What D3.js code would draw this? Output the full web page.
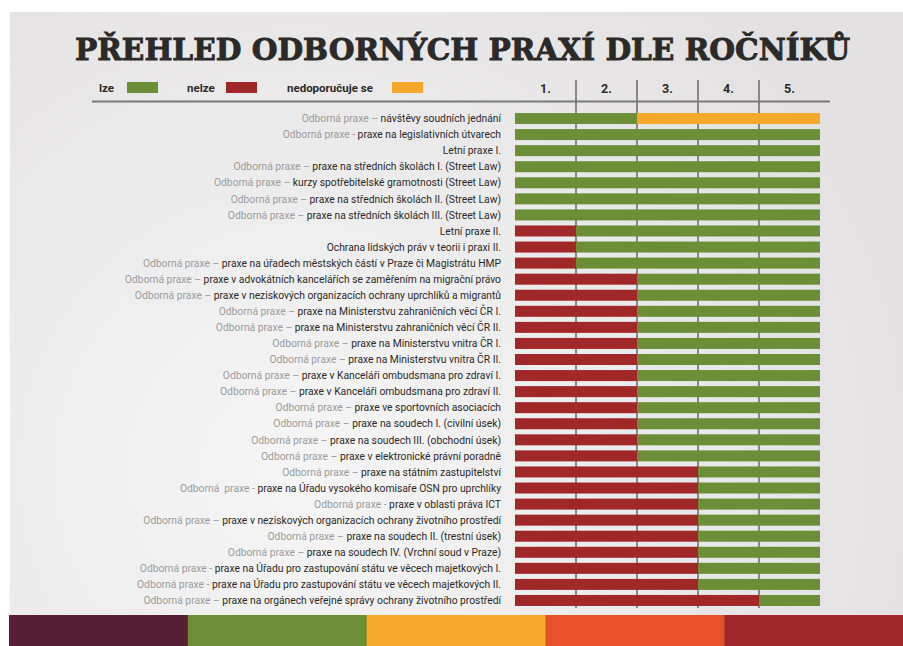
<!DOCTYPE html>
<html>
<head>
<meta charset="utf-8">
<script src="https://cdn.jsdelivr.net/npm/d3@7"></script>
<style>
  html, body { margin: 0; padding: 0; background: #fff; }
  svg { display: block; }
</style>
</head>
<body>
<div id="chart"></div>
<script>
(function () {
    /* ----------------------- Data ----------------------- */
    const years = ["1.", "2.", "3.", "4.", "5."];

    const categories = ["lze", "nelze", "nedoporučuje se"];
    const categoryCodes = ["L", "N", "O"];

    const prefixes = [
        "Odborná praxe – ", "Odborná praxe - ", "", "Odborná praxe – ", "Odborná praxe – ",
        "Odborná praxe – ", "Odborná praxe – ", "", "", "Odborná praxe – ",
        "Odborná praxe – ", "Odborná praxe – ", "Odborná praxe – ", "Odborná praxe – ", "Odborná praxe – ",
        "Odborná praxe – ", "Odborná praxe – ", "Odborná praxe – ", "Odborná praxe – ", "Odborná praxe – ",
        "Odborná praxe – ", "Odborná praxe – ", "Odborná praxe – ", "Odborná\u00a0 praxe - ", "Odborná praxe - ",
        "Odborná praxe – ", "Odborná praxe – ", "Odborná praxe – ", "Odborná praxe - ", "Odborná praxe - ",
        "Odborná praxe – "
    ];

    const labels = [
        "návštěvy soudních jednání",
        "praxe na legislativních útvarech",
        "Letní praxe I.",
        "praxe na středních školách I. (Street Law)",
        "kurzy spotřebitelské gramotnosti (Street Law)",
        "praxe na středních školách II. (Street Law)",
        "praxe na středních školách III. (Street Law)",
        "Letní praxe II.",
        "Ochrana lidských práv v teorii i praxi II.",
        "praxe na úřadech městských částí v Praze či Magistrátu HMP",
        "praxe v advokátních kancelářích se zaměřením na migrační právo",
        "praxe v neziskových organizacích ochrany uprchlíků a migrantů",
        "praxe na Ministerstvu zahraničních věcí ČR I.",
        "praxe na Ministerstvu zahraničních věcí ČR II.",
        "praxe na Ministerstvu vnitra ČR I.",
        "praxe na Ministerstvu vnitra ČR II.",
        "praxe v Kanceláři ombudsmana pro zdraví I.",
        "praxe v Kanceláři ombudsmana pro zdraví II.",
        "praxe ve sportovních asociacích",
        "praxe na soudech I. (civilní úsek)",
        "praxe na soudech III. (obchodní úsek)",
        "praxe v elektronické právní poradně",
        "praxe na státním zastupitelství",
        "praxe na Úřadu vysokého komisaře OSN pro uprchlíky",
        "praxe v oblasti práva ICT",
        "praxe v neziskových organizacích ochrany životního prostředí",
        "praxe na soudech II. (trestní úsek)",
        "praxe na soudech IV. (Vrchní soud v Praze)",
        "praxe na Úřadu pro zastupování státu ve věcech majetkových I.",
        "praxe na Úřadu pro zastupování státu ve věcech majetkových II.",
        "praxe na orgánech veřejné správy ochrany životního prostředí"
    ];

    // one code per year (1.–5.) : L = lze, N = nelze, O = nedoporučuje se
    const status = [
        "LLOOO", "LLLLL", "LLLLL", "LLLLL", "LLLLL", "LLLLL", "LLLLL",
        "NLLLL", "NLLLL", "NLLLL",
        "NNLLL", "NNLLL", "NNLLL", "NNLLL", "NNLLL", "NNLLL",
        "NNLLL", "NNLLL", "NNLLL", "NNLLL", "NNLLL", "NNLLL",
        "NNNLL", "NNNLL", "NNNLL", "NNNLL", "NNNLL", "NNNLL", "NNNLL", "NNNLL",
        "NNNNL"
    ];

    const footerColors = ["#561f33", "#6b8e36", "#f5a82a", "#e65128", "#a12828"];

    /* ----------------------- Dimensions ----------------------- */
    const W = 903, H = 646;

    const svg = d3.select("#chart")
        .append("svg")
        .attr("width", W)
        .attr("height", H);

    // background card with soft gradient
    const defs = svg.append("defs");
    const grad = defs.append("radialGradient")
        .attr("id", "bg")
        .attr("gradientUnits", "userSpaceOnUse")
        .attr("cx", 300).attr("cy", 470).attr("r", 620);
    grad.append("stop").attr("offset", "0%").attr("stop-color", "#f6f6f6");
    grad.append("stop").attr("offset", "100%").attr("stop-color", "#e3e1e1");

    svg.append("rect")
        .attr("x", 10).attr("y", 12)
        .attr("width", W - 10).attr("height", 603)
        .attr("fill", "url(#bg)");

    /* ----------------------- Scales ----------------------- */
    const color = d3.scaleOrdinal()
        .domain(categoryCodes)
        .range(["#6b8e36", "#a12828", "#f5a82a"]);

    const x = d3.scaleBand().domain(years).range([515, 820]).padding(0);
    const y = d3.scaleBand()
        .domain(d3.range(labels.length))
        .range([110.5, 608.5])
        .paddingInner(0.315)
        .paddingOuter(0.1575);

    /* ----------------------- Title ----------------------- */
    svg.append("text")
        .attr("x", 75)
        .attr("y", 60)
        .attr("textLength", 775)
        .attr("lengthAdjust", "spacingAndGlyphs")
        .style("font-family", "'DejaVu Serif', serif")
        .style("font-weight", "bold")
        .style("font-size", "30px")
        .style("fill", "#2b2a29")
        .style("stroke", "#2b2a29")
        .style("stroke-width", 0.9)
        .text("PŘEHLED ODBORNÝCH PRAXÍ DLE ROČNÍKŮ");

    /* ----------------------- Legend ----------------------- */
    const legendPos = [
        { tx: 99, bx: 127 },
        { tx: 187, bx: 226 },
        { tx: 287, bx: 392 }
    ];
    const legend = svg.selectAll(".legend")
        .data(categories)
        .enter()
        .append("g")
        .attr("class", "legend");

    legend.append("text")
        .attr("x", (d, i) => legendPos[i].tx)
        .attr("y", 91.5)
        .style("font-family", "Roboto, sans-serif")
        .style("font-weight", "bold")
        .style("font-size", "11.5px")
        .style("fill", "#2b2a29")
        .text((d) => d);

    legend.append("rect")
        .attr("x", (d, i) => legendPos[i].bx)
        .attr("y", 82)
        .attr("width", 31)
        .attr("height", 11)
        .attr("fill", (d, i) => color(categoryCodes[i]));

    /* ----------------------- Year grid ----------------------- */
    svg.selectAll(".year-label")
        .data(years)
        .enter()
        .append("text")
        .attr("class", "year-label")
        .attr("x", (d) => x(d) + x.bandwidth() / 2)
        .attr("y", 93)
        .attr("text-anchor", "middle")
        .style("font-family", "Roboto, sans-serif")
        .style("font-weight", "bold")
        .style("font-size", "12.5px")
        .style("fill", "#2b2a29")
        .text((d) => d);

    svg.selectAll(".year-line")
        .data(years.slice(1))
        .enter()
        .append("line")
        .attr("class", "year-line")
        .attr("x1", (d) => x(d))
        .attr("x2", (d) => x(d))
        .attr("y1", 80)
        .attr("y2", 608)
        .attr("stroke", "#555")
        .attr("stroke-width", 1.3);

    svg.append("line")
        .attr("x1", 92).attr("x2", 830)
        .attr("y1", 101.5).attr("y2", 101.5)
        .attr("stroke", "#7a7a7a")
        .attr("stroke-width", 2.2);

    /* ----------------------- Bars ----------------------- */
    const cells = [];
    status.forEach((s, row) => {
        s.split("").forEach((code, j) => cells.push({ row, year: years[j], code }));
    });

    svg.selectAll(".cell")
        .data(cells)
        .enter()
        .append("rect")
        .attr("class", "cell")
        .attr("x", (d) => x(d.year))
        .attr("y", (d) => y(d.row))
        .attr("width", (d) => x.bandwidth() + (d.year === "5." ? 0 : 0.6))
        .attr("height", y.bandwidth())
        .attr("fill", (d) => color(d.code));

    /* ----------------------- Row labels ----------------------- */
    const rowLabels = svg.selectAll(".row-label")
        .data(labels)
        .enter()
        .append("text")
        .attr("class", "row-label")
        .attr("x", 501)
        .attr("y", (d, i) => y(i) + y.bandwidth() / 2)
        .attr("dy", "0.36em")
        .attr("text-anchor", "end")
        .style("font-family", "Roboto, sans-serif")
        .style("font-size", "10.3px")
        .style("white-space", "pre");

    rowLabels.append("tspan")
        .style("fill", "#9b9b9b")
        .text((d, i) => prefixes[i]);

    rowLabels.append("tspan")
        .style("fill", "#2b2a29")
        .text((d) => d);

    /* ----------------------- Footer stripes ----------------------- */
    const fx = d3.scaleBand().domain(d3.range(footerColors.length)).range([9, W]);
    svg.selectAll(".footer")
        .data(footerColors)
        .enter()
        .append("rect")
        .attr("class", "footer")
        .attr("x", (d, i) => fx(i))
        .attr("y", 615)
        .attr("width", fx.bandwidth() + 0.5)
        .attr("height", 31)
        .attr("fill", (d) => d);
})();
</script>
</body>
</html>
